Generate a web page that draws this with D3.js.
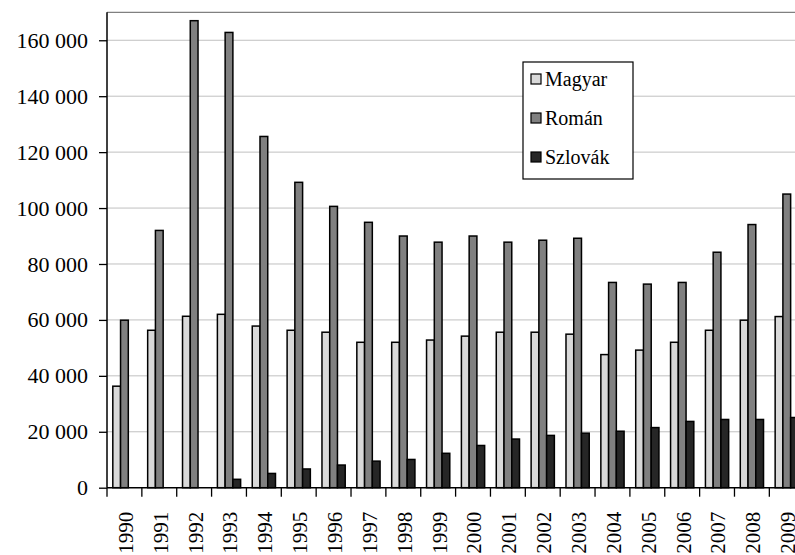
<!DOCTYPE html>
<html>
<head>
<meta charset="utf-8">
<script src="https://d3js.org/d3.v7.min.js"></script>
<style>
  body { margin: 0; background: #fff; }
  svg { display: block; }
  text { font-family: "Liberation Serif", "Times New Roman", serif; fill: #000; }
</style>
</head>
<body>
<svg id="chart"></svg>
<script>
// values (persons)
const years = ["1990","1991","1992","1993","1994","1995","1996","1997","1998","1999",
               "2000","2001","2002","2003","2004","2005","2006","2007","2008","2009"];
const magyar  = [36300, 56300, 61300, 62000, 57800, 56300, 55600, 52000, 52000, 52800,
                 54200, 55600, 55600, 54900, 47600, 49200, 52000, 56300, 59900, 61200];
const roman   = [59900, 92000, 167000, 162800, 125600, 109200, 100600, 94900, 90000, 87800,
                 90000, 87800, 88500, 89200, 73400, 72800, 73400, 84200, 94100, 105000];
const szlovak = [null, null, null, 3000, 5100, 6700, 8100, 9500, 10100, 12300,
                 15100, 17400, 18700, 19500, 20200, 21500, 23700, 24400, 24400, 25100];
const seriesNames = ["Magyar", "Román", "Szlovák"];
const yTicks = [0, 20000, 40000, 60000, 80000, 100000, 120000, 140000, 160000];

const series = [
  { name: seriesNames[0], values: magyar,  color: "#d9d9d9" },
  { name: seriesNames[1], values: roman,   color: "#808080" },
  { name: seriesNames[2], values: szlovak, color: "#262626" }
];

const width = 795, height = 555;
const plot = { left: 107, top: 12.3, bottom: 487.7, bandW: 34.86 };

const svg = d3.select('#chart').attr('width', width).attr('height', height);

const x = d3.scaleBand()
    .domain(years)
    .range([plot.left, plot.left + plot.bandW * years.length])
    .paddingInner(0).paddingOuter(0);

// three bars per year, gap of 0.75 bar on each side
const xSub = d3.scaleBand()
    .domain(seriesNames)
    .range([0, x.bandwidth()])
    .paddingInner(0).paddingOuter(0.75);

const y = d3.scaleLinear()
    .domain([0, 170000])
    .range([plot.bottom, plot.top]);

const fmt = v => d3.format(",")(v).replace(/,/g, " ");

// gridlines
svg.append('g')
    .selectAll('line')
    .data(yTicks.filter(d => d > 0))
    .join('line')
    .attr('x1', plot.left).attr('x2', width)
    .attr('y1', d => y(d)).attr('y2', d => y(d))
    .attr('stroke', '#c0c0c0').attr('stroke-width', 1);

// top border of plot area
svg.append('line')
    .attr('x1', plot.left).attr('x2', width)
    .attr('y1', plot.top).attr('y2', plot.top)
    .attr('stroke', '#808080').attr('stroke-width', 1.3);

// bars
const groups = svg.append('g').selectAll('g')
    .data(series)
    .join('g')
    .attr('fill', d => d.color);

groups.selectAll('rect')
    .data(s => s.values.map((v, i) => ({ name: s.name, year: years[i], v: v })).filter(d => d.v != null))
    .join('rect')
    .attr('x', d => x(d.year) + xSub(d.name))
    .attr('width', xSub.bandwidth())
    .attr('y', d => y(d.v))
    .attr('height', d => y(0) - y(d.v))
    .attr('stroke', '#000')
    .attr('stroke-width', 1.5);

// y axis
const yAxis = svg.append('g')
    .attr('transform', `translate(${plot.left},0)`)
    .call(d3.axisLeft(y).tickValues(yTicks).tickFormat(fmt).tickSize(8).tickPadding(11));
yAxis.select('.domain').attr('stroke', '#000').attr('stroke-width', 1.5)
    .attr('d', `M0,${plot.top}V${plot.bottom}`);
yAxis.selectAll('.tick line').attr('stroke', '#000').attr('stroke-width', 1.3);
yAxis.selectAll('.tick text')
    .style('font-family', '"Liberation Serif", serif')
    .style('font-size', '22px');

// x axis: ticks at band boundaries
const xAxis = svg.append('g').attr('transform', `translate(0,${plot.bottom})`);
xAxis.append('line')
    .attr('x1', plot.left).attr('x2', width)
    .attr('stroke', '#000').attr('stroke-width', 1.5);
xAxis.selectAll('line.tick')
    .data(years)
    .join('line')
    .attr('class', 'tick')
    .attr('x1', d => x(d)).attr('x2', d => x(d))
    .attr('y1', 0).attr('y2', 9)
    .attr('stroke', '#000').attr('stroke-width', 1.3);
xAxis.selectAll('text')
    .data(years)
    .join('text')
    .attr('transform', d => `translate(${x(d) + x.bandwidth() / 2 + 1},${24}) rotate(-90)`)
    .attr('text-anchor', 'end')
    .attr('dy', '0.35em')
    .style('font-size', '21px')
    .text(d => d);

// legend
const legend = svg.append('g').attr('transform', 'translate(523,62)');
legend.append('rect')
    .attr('width', 110).attr('height', 117)
    .attr('fill', '#fff').attr('stroke', '#000').attr('stroke-width', 1.2);
const item = legend.selectAll('g.item')
    .data(series)
    .join('g')
    .attr('class', 'item')
    .attr('transform', (d, i) => `translate(8,${17 + i * 39})`);
item.append('rect')
    .attr('x', 0).attr('y', -5)
    .attr('width', 10).attr('height', 10)
    .attr('fill', d => d.color)
    .attr('stroke', '#000').attr('stroke-width', 1.2);
item.append('text')
    .attr('x', 14).attr('dy', '0.35em')
    .style('font-size', '20px')
    .text(d => d.name);
</script>
</body>
</html>
